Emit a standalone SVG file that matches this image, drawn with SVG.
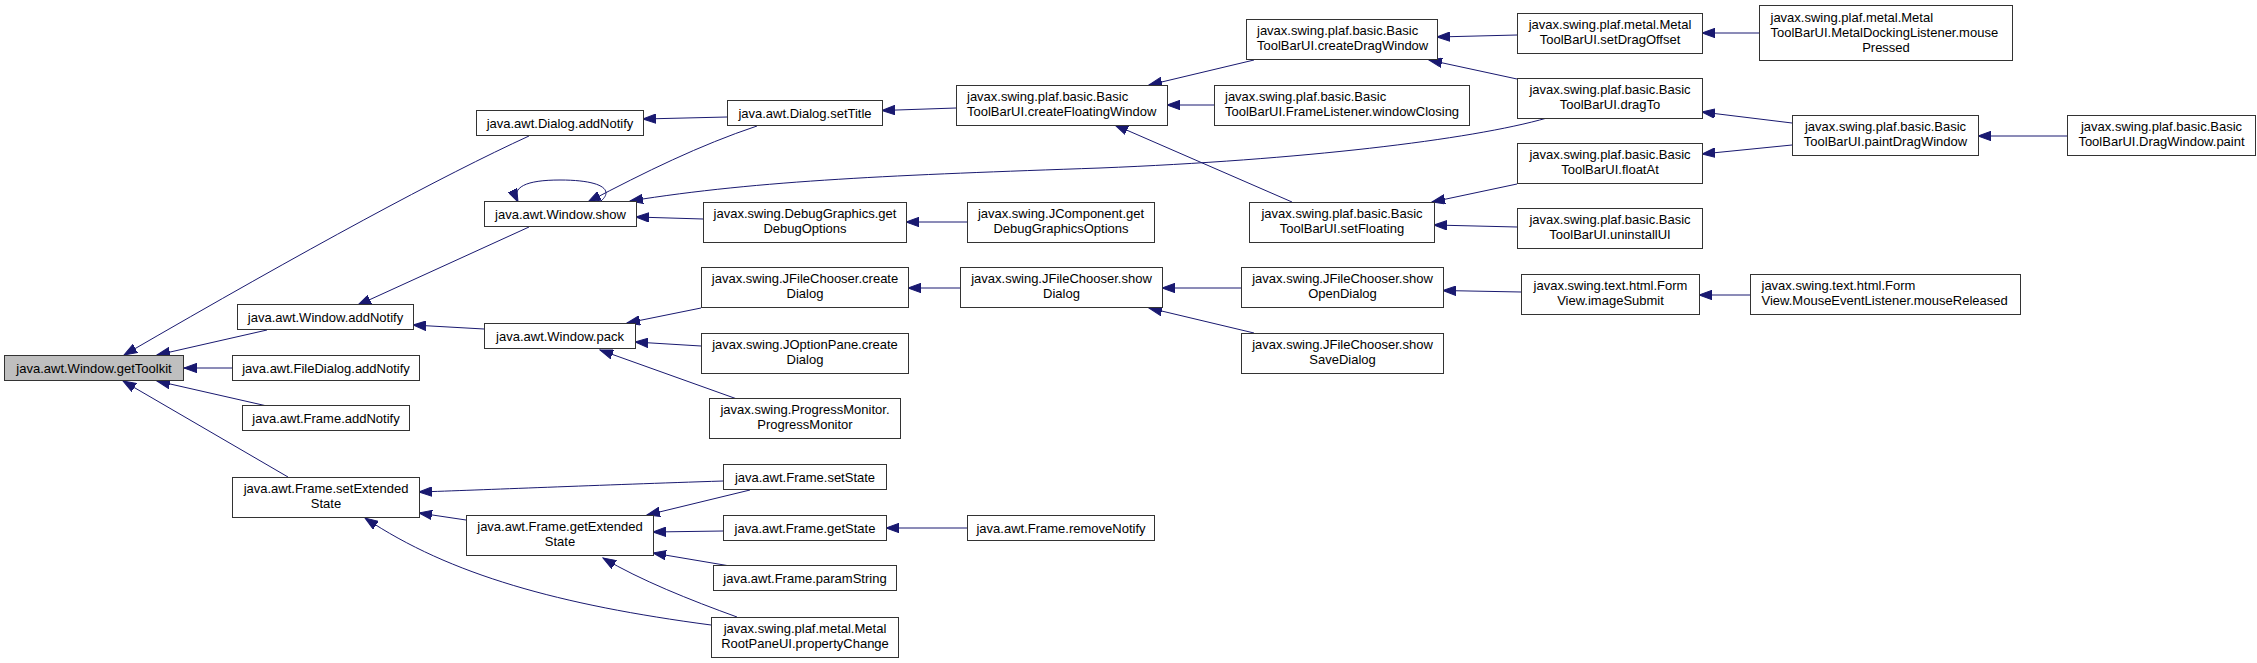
<svg xmlns="http://www.w3.org/2000/svg" width="2257" height="663" viewBox="0 0 2257 663">
<defs>
<marker id="ah" markerWidth="14" markerHeight="10" refX="13" refY="0" viewBox="0 -5 14 10" orient="auto" markerUnits="userSpaceOnUse">
<path d="M0,-4.7 L13,0 L0,4.7 Z" fill="#191970" stroke="#191970" stroke-width="1"/>
</marker>
<style>
.n rect{fill:#fff;stroke:#333;stroke-width:1}
.n.hl rect{fill:#bfbfbf}
.n text{font-family:"Liberation Sans",Arial,sans-serif;font-size:13px;fill:#000;text-anchor:middle}
.n text.l{text-anchor:start}
#edges path{fill:none;stroke:#191970;stroke-width:1;marker-end:url(#ah)}
</style>
</defs>
<rect width="2257" height="663" fill="#fff"/>
<g id="edges">
<path d="M529,136 Q400,195 124,355"/>
<path d="M267,330 L157,355"/>
<path d="M232,368 L184,368"/>
<path d="M267,406 L157,381"/>
<path d="M288,477 L123,381"/>
<path d="M529,227 L358,305"/>
<path d="M484,329 L413,325"/>
<path d="M727,117 L643,119"/>
<path d="M757,126 C700,145 645,172 588,202"/>
<path d="M601,201 C614,190 602,180 560,180 C526,180 511,187 518,202"/>
<path d="M1547,118 C1470,140 1300,160 1100,168 C900,175 760,180 630,201"/>
<path d="M703,219 L636,217"/>
<path d="M701,308 L627,323"/>
<path d="M701,346 L635,342"/>
<path d="M737,399 L600,350"/>
<path d="M723,481 C600,485 480,490 419,492"/>
<path d="M750,490 L647,515"/>
<path d="M466,520 L419,513"/>
<path d="M723,531 L653,532"/>
<path d="M730,566 L653,553"/>
<path d="M737,617 C690,600 640,580 603,558"/>
<path d="M711,625 C560,605 450,575 365,518"/>
<path d="M967,528 L886,528"/>
<path d="M956,108 L882,110.5"/>
<path d="M1254,60 L1149,85"/>
<path d="M1214,105 L1167,105"/>
<path d="M1292,202 L1115,125"/>
<path d="M1517,35 L1437,37"/>
<path d="M1517,79 L1429,60"/>
<path d="M967,222 L906,222"/>
<path d="M1517,184 L1432,202"/>
<path d="M1517,227 L1434,225"/>
<path d="M960,288 L908,288"/>
<path d="M1241,288 L1162,288"/>
<path d="M1254,333 L1149,308"/>
<path d="M1521,292 L1443,290.5"/>
<path d="M1759,33 L1702,33"/>
<path d="M1792,123 L1702,112"/>
<path d="M1792,145 L1702,154"/>
<path d="M2068,136 L1978,136"/>
<path d="M1750,295 L1699,295"/>
</g>
<g id="n0" class="n hl"><rect x="4.5" y="355.5" width="179" height="25"/><text x="94" y="372.5">java.awt.Window.getToolkit</text></g>
<g id="n1" class="n"><rect x="476.5" y="110.5" width="167" height="25"/><text x="560" y="127.5">java.awt.Dialog.addNotify</text></g>
<g id="n2" class="n"><rect x="237.5" y="304.5" width="176" height="25"/><text x="325.5" y="321.5">java.awt.Window.addNotify</text></g>
<g id="n3" class="n"><rect x="232.5" y="355.5" width="187" height="25"/><text x="326" y="372.5">java.awt.FileDialog.addNotify</text></g>
<g id="n4" class="n"><rect x="242.5" y="405.5" width="167" height="25"/><text x="326" y="422.5">java.awt.Frame.addNotify</text></g>
<g id="n5" class="n"><rect x="232.5" y="477.5" width="187" height="40"/><text x="326" y="493">java.awt.Frame.setExtended</text><text x="326" y="508">State</text></g>
<g id="n6" class="n"><rect x="484.5" y="201.5" width="152" height="25"/><text x="560.5" y="218.5">java.awt.Window.show</text></g>
<g id="n7" class="n"><rect x="484.5" y="323.5" width="151" height="25"/><text x="560" y="340.5">java.awt.Window.pack</text></g>
<g id="n8" class="n"><rect x="466.5" y="515.5" width="187" height="40"/><text x="560" y="531">java.awt.Frame.getExtended</text><text x="560" y="546">State</text></g>
<g id="n9" class="n"><rect x="727.5" y="100.5" width="155" height="25"/><text x="805" y="117.5">java.awt.Dialog.setTitle</text></g>
<g id="n10" class="n"><rect x="703.5" y="202.5" width="203" height="40"/><text x="805" y="218">javax.swing.DebugGraphics.get</text><text x="805" y="233">DebugOptions</text></g>
<g id="n11" class="n"><rect x="701.5" y="267.5" width="207" height="40"/><text x="805" y="283">javax.swing.JFileChooser.create</text><text x="805" y="298">Dialog</text></g>
<g id="n12" class="n"><rect x="701.5" y="333.5" width="207" height="40"/><text x="805" y="349">javax.swing.JOptionPane.create</text><text x="805" y="364">Dialog</text></g>
<g id="n13" class="n"><rect x="709.5" y="398.5" width="191" height="40"/><text x="805" y="414">javax.swing.ProgressMonitor.</text><text x="805" y="429">ProgressMonitor</text></g>
<g id="n14" class="n"><rect x="723.5" y="464.5" width="163" height="25"/><text x="805" y="481.5">java.awt.Frame.setState</text></g>
<g id="n15" class="n"><rect x="723.5" y="515.5" width="163" height="25"/><text x="805" y="532.5">java.awt.Frame.getState</text></g>
<g id="n16" class="n"><rect x="713.5" y="565.5" width="183" height="25"/><text x="805" y="582.5">java.awt.Frame.paramString</text></g>
<g id="n17" class="n"><rect x="711.5" y="617.5" width="187" height="40"/><text x="805" y="633">javax.swing.plaf.metal.Metal</text><text x="805" y="648">RootPaneUI.propertyChange</text></g>
<g id="n18" class="n"><rect x="956.5" y="85.5" width="211" height="40"/><text class="l" x="967" y="101">javax.swing.plaf.basic.Basic</text><text class="l" x="967" y="116">ToolBarUI.createFloatingWindow</text></g>
<g id="n19" class="n"><rect x="967.5" y="202.5" width="187" height="40"/><text x="1061" y="218">javax.swing.JComponent.get</text><text x="1061" y="233">DebugGraphicsOptions</text></g>
<g id="n20" class="n"><rect x="960.5" y="267.5" width="202" height="40"/><text x="1061.5" y="283">javax.swing.JFileChooser.show</text><text x="1061.5" y="298">Dialog</text></g>
<g id="n21" class="n"><rect x="967.5" y="515.5" width="187" height="25"/><text x="1061" y="532.5">java.awt.Frame.removeNotify</text></g>
<g id="n22" class="n"><rect x="1246.5" y="19.5" width="191" height="40"/><text class="l" x="1257" y="35">javax.swing.plaf.basic.Basic</text><text class="l" x="1257" y="50">ToolBarUI.createDragWindow</text></g>
<g id="n23" class="n"><rect x="1214.5" y="85.5" width="255" height="40"/><text class="l" x="1225" y="101">javax.swing.plaf.basic.Basic</text><text class="l" x="1225" y="116">ToolBarUI.FrameListener.windowClosing</text></g>
<g id="n24" class="n"><rect x="1249.5" y="202.5" width="185" height="40"/><text x="1342" y="218">javax.swing.plaf.basic.Basic</text><text x="1342" y="233">ToolBarUI.setFloating</text></g>
<g id="n25" class="n"><rect x="1241.5" y="267.5" width="202" height="40"/><text x="1342.5" y="283">javax.swing.JFileChooser.show</text><text x="1342.5" y="298">OpenDialog</text></g>
<g id="n26" class="n"><rect x="1241.5" y="333.5" width="202" height="40"/><text x="1342.5" y="349">javax.swing.JFileChooser.show</text><text x="1342.5" y="364">SaveDialog</text></g>
<g id="n27" class="n"><rect x="1517.5" y="13.5" width="185" height="40"/><text x="1610" y="29">javax.swing.plaf.metal.Metal</text><text x="1610" y="44">ToolBarUI.setDragOffset</text></g>
<g id="n28" class="n"><rect x="1517.5" y="78.5" width="185" height="40"/><text x="1610" y="94">javax.swing.plaf.basic.Basic</text><text x="1610" y="109">ToolBarUI.dragTo</text></g>
<g id="n29" class="n"><rect x="1517.5" y="143.5" width="185" height="40"/><text x="1610" y="159">javax.swing.plaf.basic.Basic</text><text x="1610" y="174">ToolBarUI.floatAt</text></g>
<g id="n30" class="n"><rect x="1517.5" y="208.5" width="185" height="40"/><text x="1610" y="224">javax.swing.plaf.basic.Basic</text><text x="1610" y="239">ToolBarUI.uninstallUI</text></g>
<g id="n31" class="n"><rect x="1521.5" y="274.5" width="178" height="40"/><text x="1610.5" y="290">javax.swing.text.html.Form</text><text x="1610.5" y="305">View.imageSubmit</text></g>
<g id="n32" class="n"><rect x="1759.5" y="5.5" width="253" height="55"/><text class="l" x="1770.5" y="21.5">javax.swing.plaf.metal.Metal</text><text class="l" x="1770.5" y="36.5">ToolBarUI.MetalDockingListener.mouse</text><text x="1886" y="51.5">Pressed</text></g>
<g id="n33" class="n"><rect x="1792.5" y="115.5" width="186" height="40"/><text x="1885.5" y="131">javax.swing.plaf.basic.Basic</text><text x="1885.5" y="146">ToolBarUI.paintDragWindow</text></g>
<g id="n34" class="n"><rect x="1750.5" y="274.5" width="270" height="40"/><text class="l" x="1761.5" y="290">javax.swing.text.html.Form</text><text class="l" x="1761.5" y="305">View.MouseEventListener.mouseReleased</text></g>
<g id="n35" class="n"><rect x="2067.5" y="115.5" width="188" height="40"/><text x="2161.5" y="131">javax.swing.plaf.basic.Basic</text><text x="2161.5" y="146">ToolBarUI.DragWindow.paint</text></g>
</svg>
